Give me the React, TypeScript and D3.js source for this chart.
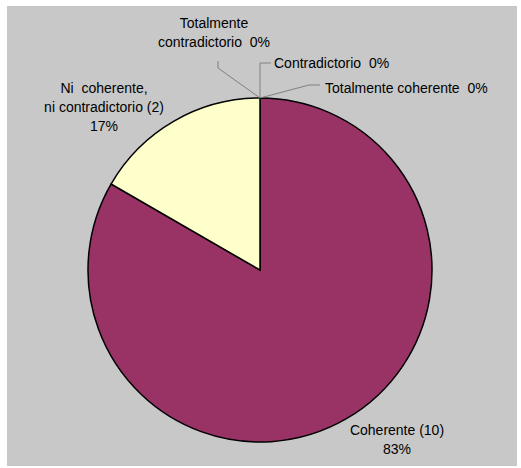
import React from 'react';
import * as d3 from 'd3';

const categories = [
  'Totalmente coherente',
  'Coherente',
  'Ni  coherente, ni contradictorio',
  'Contradictorio',
  'Totalmente contradictorio',
];
const counts = [0, 10, 2, 0, 0];
const percentLabels = ['0%', '83%', '17%', '0%', '0%'];
const sliceColors = ['#FFFFFF', '#993366', '#FFFFCC', '#CCFFFF', '#660066'];

// label text lines + anchor (relative to pie centre), leader path offsets
const labelLayout = [
  { lines: ['Totalmente coherente  0%'], x: 65, y: -177, anchor: 'start', leader: [[49, -185], [60, -185]] },
  { lines: ['Coherente (10)', '83%'], x: 137, y: 165, anchor: 'middle', leader: [] },
  { lines: ['Ni  coherente,', 'ni contradictorio (2)', '17%'], x: -156, y: -177, anchor: 'middle', leader: [] },
  { lines: ['Contradictorio  0%'], x: 14, y: -202, anchor: 'start', leader: [[0, -207], [11, -207]] },
  { lines: ['Totalmente', 'contradictorio  0%'], x: -46, y: -242, anchor: 'middle', leader: [[-42, -202], [-42, -209]] },
];

const W = 521;
const H = 468;
const cx = 260;
const cy = 270;
const R = 172;

export default function App() {
  const pie = d3.pie<number>().sort(null).value(d => d)(counts);
  const arc = d3.arc<d3.PieArcDatum<number>>().innerRadius(0).outerRadius(R);

  return (
    <svg width={W} height={H} style={{ position: 'absolute', left: 0, top: 0 }}
      fontFamily="'Liberation Sans', Arial, sans-serif" fontSize={14}>
      <rect x={0} y={0} width={W} height={H} fill="#ffffff" />
      <rect x={7} y={6} width={510} height={460} fill="#C8C8C8" />
      <g transform={`translate(${cx},${cy})`}>
        {pie.map((p, i) =>
          p.value > 0 ? (
            <path key={i} d={arc(p) || ''} fill={sliceColors[i]} stroke="#000" strokeWidth={1.5} />
          ) : null
        )}
        {pie.map((p, i) => {
          const L = labelLayout[i];
          if (!L.leader.length) return null;
          const a = (p.startAngle + p.endAngle) / 2;
          const start: [number, number] = [R * Math.sin(a), -R * Math.cos(a)];
          const pts = [start, ...(L.leader as [number, number][])];
          return (
            <path key={'l' + i} d={d3.line()(pts) || ''} fill="none" stroke="#808080" strokeWidth={1} />
          );
        })}
        {labelLayout.map((L, i) => (
          <text key={'t' + i} x={L.x} y={L.y} textAnchor={L.anchor as any} fill="#000"
            style={{ whiteSpace: 'pre' }}>
            {L.lines.map((s, j) => (
              <tspan key={j} x={L.x} dy={j === 0 ? 0 : 19}>{s}</tspan>
            ))}
          </text>
        ))}
      </g>
    </svg>
  );
}
